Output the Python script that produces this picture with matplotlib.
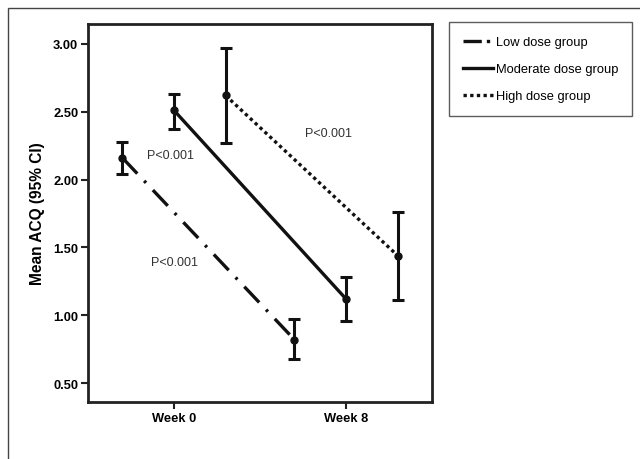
import matplotlib
matplotlib.use('Agg')
import matplotlib.pyplot as plt
from matplotlib.patches import Rectangle
from matplotlib.lines import Line2D
import numpy as np

plt.rcParams['font.family'] = ['Liberation Sans', 'DejaVu Sans']

weeks = ['Week 0', 'Week 8']
groups = ['Low dose group', 'Moderate dose group', 'High dose group']
offsets = [-0.3, 0.0, 0.3]
means = [[2.16, 0.82], [2.51, 1.12], [2.62, 1.44]]
ci_low = [[2.04, 0.68], [2.37, 0.96], [2.27, 1.11]]
ci_high = [[2.28, 0.97], [2.63, 1.28], [2.97, 1.76]]
styles = [(0, (6.5, 3, 0.8, 3)), '-', (0, (1, 1))]
legend_styles = [(0, (5.5, 1.5, 1, 1.5)), '-', (0, (1, 1))]
p_labels = ['P<0.001', 'P<0.001', 'P<0.001']
p_pos = [(0.0, 1.39), (-0.02, 2.18), (0.9, 2.34)]

fig = plt.figure(figsize=(6.4, 4.6), dpi=100)
# outer frame
fig.patches.append(Rectangle((8/640, -0.1), 1.2, 1 - 9/460 + 0.1, transform=fig.transFigure,
                             fill=False, edgecolor='#444444', linewidth=1.0))
ax = fig.add_axes([88/640, 1 - 403/460, (432-88)/640, (403-25)/460])

x = np.arange(len(weeks))
for i, g in enumerate(groups):
    xs = x + offsets[i]
    m = np.array(means[i])
    lo = m - np.array(ci_low[i])
    hi = np.array(ci_high[i]) - m
    ax.plot(xs, m, color='#111111', linestyle=styles[i], linewidth=2.4,
            solid_capstyle='butt', dash_capstyle='butt')
    ax.errorbar(xs, m, yerr=[lo, hi], fmt='o', color='#111111', markersize=5,
                elinewidth=2.2, capsize=4.5, capthick=2.2)

for t, (px, py) in zip(p_labels, p_pos):
    ax.text(px, py, t, fontsize=9, color='#333333', ha='center', va='center')

ax.set_xlim(-0.5, 1.5)
ax.set_ylim(0.36, 3.147)
ax.set_xticks(x)
ax.set_xticklabels(weeks, fontsize=9.3, fontweight='bold')
ax.set_yticks([0.5, 1.0, 1.5, 2.0, 2.5, 3.0])
ax.set_yticklabels(['0.50', '1.00', '1.50', '2.00', '2.50', '3.00'], fontsize=9.3, fontweight='bold')
ax.tick_params(length=5, width=1.5, color='#222222', pad=2)
for s in ax.spines.values():
    s.set_linewidth(2)
    s.set_color('#222222')
ax.set_ylabel('Mean ACQ (95% CI)', fontsize=11.2, fontweight='bold', labelpad=6)

handles = [Line2D([], [], color='#111111', linestyle=ls, linewidth=2.4, dash_capstyle='butt')
           for ls in legend_styles]
leg = fig.legend(handles, groups, loc='upper left', bbox_to_anchor=(449/640, 1 - 23/460), fontsize=9.3,
                 frameon=True, fancybox=False, edgecolor='#333333', handlelength=2.3,
                 labelspacing=1.15, borderpad=1.1, handletextpad=0.2, borderaxespad=0)
leg.get_frame().set_linewidth(1.0)

fig.savefig('out.png', dpi=100)
